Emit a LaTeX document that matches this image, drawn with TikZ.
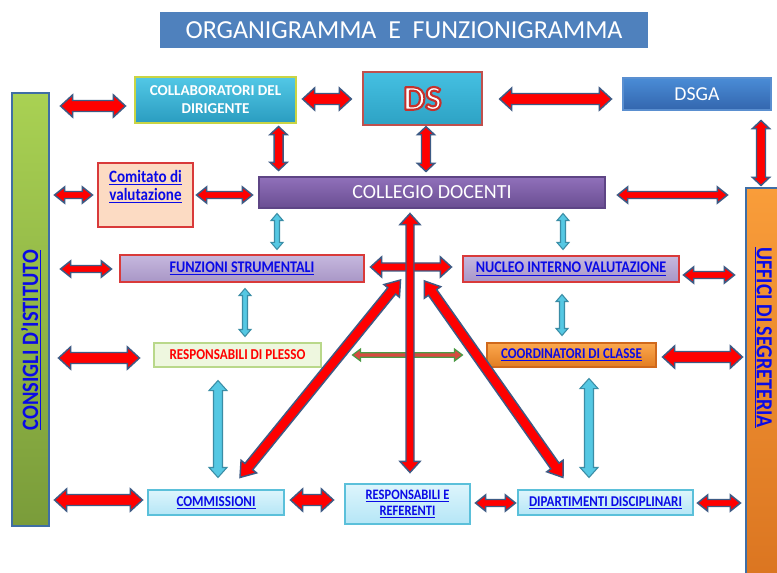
\documentclass[tikz,border=0pt]{standalone}
\usepackage{fontspec}
\setmainfont{Carlito}
\newfontfamily\condf[FakeStretch=0.87]{Carlito}
\usetikzlibrary{calc}
\definecolor{titleblue}{HTML}{4F81BD}
\definecolor{collabtop}{HTML}{52C8E6}
\definecolor{collabbot}{HTML}{2A9CC0}
\definecolor{collabborder}{HTML}{C9D444}
\definecolor{dstop}{HTML}{45C0E2}
\definecolor{dsbot}{HTML}{2DA2C4}
\definecolor{dsborder}{HTML}{C0504D}
\definecolor{dsgatop}{HTML}{4A8CD6}
\definecolor{dsgabot}{HTML}{3366AE}
\definecolor{dsgaborder}{HTML}{5A8FD0}
\definecolor{cdtop}{HTML}{9070BA}
\definecolor{cdbot}{HTML}{6A4E92}
\definecolor{cdborder}{HTML}{5E4585}
\definecolor{comfill}{HTML}{FCDBC3}
\definecolor{redborder}{HTML}{D93A3A}
\definecolor{lavtop}{HTML}{C6B8DE}
\definecolor{lavbot}{HTML}{A896C6}
\definecolor{rdpfill}{HTML}{EEF7DF}
\definecolor{rdpborder}{HTML}{B9D88A}
\definecolor{cdctop}{HTML}{FBA84E}
\definecolor{cdcbot}{HTML}{E27D22}
\definecolor{cdcborder}{HTML}{D0691C}
\definecolor{lctop}{HTML}{DDF5FC}
\definecolor{lcbot}{HTML}{B5E6F6}
\definecolor{lcborder}{HTML}{5BC0DA}
\definecolor{gtop}{HTML}{A9D153}
\definecolor{gbot}{HTML}{7A9C3A}
\definecolor{otop}{HTML}{F99D3A}
\definecolor{obot}{HTML}{DA7420}
\definecolor{barborder}{HTML}{3F6EA5}
\definecolor{textblue}{HTML}{0A0AE6}
\definecolor{arrowborder}{HTML}{3D5A84}
\definecolor{arrowred}{HTML}{FF0000}
\definecolor{cyanfill}{HTML}{55C8E3}
\definecolor{cyanborder}{HTML}{3A8DA6}
\definecolor{greenborder}{HTML}{4B9A45}
\definecolor{greenfill}{HTML}{D84A40}

\newcommand\blockarrow[6]{%
  \path let \p1=#2, \p2=#3 in \pgfextra{%
    \pgfmathsetmacro\BAa{atan2(\y2-\y1,\x2-\x1)}%
    \pgfmathsetmacro\BAl{veclen(\x2-\x1,\y2-\y1)}%
    \global\let\BAang\BAa \global\let\BAlen\BAl};
  \begin{scope}[shift={#2}, rotate=\BAang]
    \draw[#1] (0pt,0pt) -- ({#6*0.75pt},{#5*0.75pt}) -- ({#6*0.75pt},{#4*0.75pt})
      -- ({\BAlen*1pt-#6*0.75pt},{#4*0.75pt}) -- ({\BAlen*1pt-#6*0.75pt},{#5*0.75pt})
      -- ({\BAlen*1pt},0pt) -- ({\BAlen*1pt-#6*0.75pt},{-#5*0.75pt})
      -- ({\BAlen*1pt-#6*0.75pt},{-#4*0.75pt}) -- ({#6*0.75pt},{-#4*0.75pt})
      -- ({#6*0.75pt},{-#5*0.75pt}) -- cycle;
  \end{scope}}
\newcommand\ArRB[2]{\blockarrow{redarrow}{#1}{#2}{5.5}{11}{12}}
\newcommand\ArRM[2]{\blockarrow{redarrow}{#1}{#2}{3.5}{8}{10}}
\newcommand\ArRV[2]{\blockarrow{redarrow}{#1}{#2}{4.5}{8.5}{8}}
\newcommand\ArRX[2]{\blockarrow{redarrow}{#1}{#2}{4}{10}{11}}
\newcommand\ArRD[2]{\blockarrow{redarrow}{#1}{#2}{5}{10}{14}}
\newcommand\ArCT[2]{\blockarrow{cyanarrow}{#1}{#2}{2.5}{6}{7}}
\newcommand\ArCB[2]{\blockarrow{cyanarrow}{#1}{#2}{4.5}{9}{10}}
\newcommand\ArGA[2]{\blockarrow{greenarrow}{#1}{#2}{2.2}{6}{8}}

% white letters with a red outline (fill + stroke text rendering mode)
\newcommand\dsword{{\color{white}\special{pdf:literal direct 0.78 0.19 0.17 RG 1.6 w 1 j 2 Tr}DS\special{pdf:literal direct 0 Tr}}}

\begin{document}
\begin{tikzpicture}[x=0.75pt,y=-0.75pt,
  wh/.style 2 args={minimum width={#1*0.75pt}, minimum height={#2*0.75pt}},
  box/.style={draw, line width=0.8pt, inner sep=0pt, align=center},
  bluetxt/.style={text=textblue, align=center, inner sep=0pt},
  redarrow/.style={fill=arrowred, draw=arrowborder, line width=1.1pt},
  cyanarrow/.style={fill=cyanfill, draw=cyanborder, line width=0.8pt},
  greenarrow/.style={fill=greenfill, draw=greenborder, line width=0.9pt}]
\clip (0,0) rectangle (777,573);
\fill[white] (0,0) rectangle (777,573);

% title
\node[fill=titleblue, wh={488}{36}, inner sep=0pt, text=white,
  font=\fontsize{19.5}{20}\selectfont] (title) at (404,30)
  {ORGANIGRAMMA~~E~~FUNZIONIGRAMMA};

% top row
\node[box, wh={161}{46}, top color=collabtop, bottom color=collabbot, draw=collabborder,
  text=white, font=\fontsize{11.3}{13.5}\selectfont\bfseries] (collab) at (215.5,100)
  {COLLABORATORI DEL\\DIRIGENTE};
\node[box, wh={119}{53}, top color=dstop, bottom color=dsbot, draw=dsborder, line width=1pt,
  font=\fontsize{26}{26}\selectfont\bfseries] (ds) at (422.5,98.5) {\dsword};
\node[box, wh={148}{32}, top color=dsgatop, bottom color=dsgabot, draw=dsgaborder,
  text=white, font=\fontsize{14.8}{15}\selectfont] (dsga) at (697,94) {DSGA};

% collegio + comitato
\node[box, wh={346}{31}, top color=cdtop, bottom color=cdbot, draw=cdborder,
  text=white, font=\fontsize{15}{15}\selectfont] (cd) at (432,192.5) {COLLEGIO DOCENTI};
\node[box, wh={95}{64}, fill=comfill, draw=redborder] (comitato) at (145.5,195) {};
\node[bluetxt, font=\condf\fontsize{13}{13.5}\selectfont\bfseries] (comitatotext) at (145.5,187)
  {\underline{Comitato di}\\\underline{valutazione}};

% side bars
\node[box, wh={37}{433}, top color=gtop, bottom color=gbot, draw=barborder] (consigli) at (30.5,309.5) {};
\node[bluetxt, rotate=90, font=\condf\fontsize{17.6}{18}\selectfont\bfseries] (consiglitext) at (31,340)
  {\underline{CONSIGLI D’ISTITUTO}};
\node[box, wh={35}{402}, top color=otop, bottom color=obot, draw=barborder] (uffici) at (763.5,389) {};
\node[bluetxt, rotate=-90, font=\condf\fontsize{17.2}{18}\selectfont\bfseries] (ufficitext) at (763,337.5)
  {\underline{UFFICI DI SEGRETERIA}};

% middle rows
\node[box, wh={244}{27}, top color=lavtop, bottom color=lavbot, draw=redborder,
  text=textblue, font=\condf\fontsize{12.2}{13}\selectfont\bfseries] (fs) at (242,268.5)
  {\underline{FUNZIONI STRUMENTALI}};
\node[box, wh={216}{26}, top color=lavtop, bottom color=lavbot, draw=redborder,
  text=textblue, font=\condf\fontsize{12.2}{13}\selectfont\bfseries] (niv) at (571,269)
  {\underline{NUCLEO INTERNO VALUTAZIONE}};
\node[box, wh={167}{24}, fill=rdpfill, draw=rdpborder,
  text=red, font=\condf\fontsize{11.3}{12}\selectfont\bfseries] (rdp) at (237.5,355)
  {RESPONSABILI DI PLESSO};
\node[box, wh={169}{24}, top color=cdctop, bottom color=cdcbot, draw=cdcborder,
  text=textblue, font=\condf\fontsize{11.2}{12}\selectfont\bfseries] (cdc) at (571.5,355)
  {\underline{COORDINATORI DI CLASSE}};

% bottom row
\node[box, wh={136}{25}, top color=lctop, bottom color=lcbot, draw=lcborder,
  text=textblue, font=\condf\fontsize{11.3}{12}\selectfont\bfseries] (comm) at (216,502.5)
  {\underline{COMMISSIONI}};
\node[box, wh={125}{40}, top color=lctop, bottom color=lcbot, draw=lcborder,
  text=textblue, font=\condf\fontsize{10.8}{12}\selectfont\bfseries] (rer) at (407.5,504)
  {\underline{RESPONSABILI E}\\\underline{REFERENTI}};
\node[box, wh={175}{25}, top color=lctop, bottom color=lcbot, draw=lcborder,
  text=textblue, font=\condf\fontsize{11.2}{12}\selectfont\bfseries] (dip) at (605.5,502.5)
  {\underline{DIPARTIMENTI DISCIPLINARI}};

% red horizontal arrows
\ArRB{($(consigli.east |- collab.west)+(11,6)$)}{($(collab.west)+(-9,6)$)}
\ArRB{($(collab.east)+(6,-1)$)}{($(ds.west)+(-11,0.5)$)}
\ArRB{($(ds.east)+(17,0.5)$)}{($(dsga.west)+(-11,5)$)}
\ArRM{($(consigli.east |- comitato.west)+(5,0)$)}{($(comitato.west)+(-5,0)$)}
\ArRM{($(comitato.east)+(3,0)$)}{($(cd.west |- comitato.east)+(-6,0)$)}
\ArRM{($(cd.east)+(12,2.5)$)}{($(uffici.west |- cd.east)+(-18,2.5)$)}
\ArRM{($(consigli.east |- fs.west)+(11,0.5)$)}{($(fs.west)+(-8,0.5)$)}
\ArRM{($(niv.east)+(4,6)$)}{($(uffici.west |- niv.east)+(-11,6)$)}
\ArRB{($(consigli.east |- rdp.west)+(9,3)$)}{($(rdp.west)+(-14,3)$)}
\ArRB{($(cdc.east)+(6,2)$)}{($(uffici.west |- cdc.east)+(-3,2)$)}
\ArRB{($(consigli.east |- comm.west)+(5,-2.5)$)}{($(comm.west)+(-5,-2.5)$)}
\ArRB{($(comm.east)+(6,-2.5)$)}{($(rer.west)+(-11,-4)$)}
\ArRM{($(rer.east)+(5,-1)$)}{($(dip.west)+(-2,0.5)$)}
\ArRM{($(dip.east)+(4,0.5)$)}{($(uffici.west |- dip.east)+(-5,0.5)$)}

% red vertical arrows
\ArRV{($(dsga.south -| uffici.north)+(-2.5,10)$)}{($(uffici.north)+(-2.5,-2)$)}
\ArRV{($(collab.south east)+(-18,3)$)}{($(collab.south east |- cd.north)+(-18,-6)$)}
\ArRV{($(ds.south)+(3.5,1)$)}{($(ds.south |- cd.north)+(3.5,-5)$)}

% cyan arrows
\ArCT{($(fs.north |- cd.south)+(35,5)$)}{($(fs.north)+(35,-5)$)}
\ArCT{($(niv.north |- cd.south)+(-8,5)$)}{($(niv.north)+(-8,-6)$)}
\ArCT{($(fs.south)+(3,6)$)}{($(rdp.north)+(7.5,-6)$)}
\ArCT{($(niv.south)+(-9,12)$)}{($(cdc.north)+(-9.5,-7)$)}
\ArCB{($(rdp.south)+(-19.5,13)$)}{($(comm.north)+(2,-12)$)}
\ArCB{($(cdc.south)+(17.5,11)$)}{($(dip.north)+(-16.5,-12)$)}

% centre
\ArGA{($(rdp.east)+(31,0)$)}{($(cdc.west)+(-24,0)$)}
\ArRX{($(fs.east)+(6,-1.5)$)}{($(niv.west)+(-11,-2)$)}
\ArRD{($(comm.north)+(24,-12)$)}{($(fs.east)+(36,11.5)$)}
\ArRD{($(niv.west)+(-38,12)$)}{($(dip.north)+(-42.5,-12)$)}
\ArRX{($(cd.south)+(-22,5)$)}{($(rer.north)+(2.5,-11)$)}
\end{tikzpicture}
\end{document}
